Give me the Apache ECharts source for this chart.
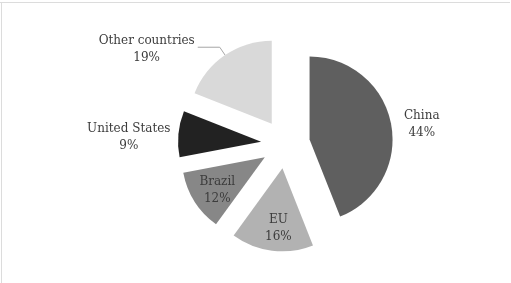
<!DOCTYPE html>
<html>
<head>
<meta charset="utf-8">
<script src="https://cdn.jsdelivr.net/npm/echarts@6/dist/echarts.min.js"></script>
<style>
html,body{margin:0;padding:0;background:#fff;}
#frame{position:absolute;left:0;top:0;width:511px;height:283px;}
#edgeTop{position:absolute;left:0;top:2px;width:510px;height:1px;background:#dcdcdc;}
#edgeLeft{position:absolute;left:1px;top:2px;width:1px;height:281px;background:#dcdcdc;}
#chart{position:absolute;left:0;top:0;width:511px;height:283px;}
</style>
</head>
<body>
<div id="frame"><div id="edgeTop"></div><div id="edgeLeft"></div><div id="chart"></div></div>
<script>
// Data
const categories = ['China', 'EU', 'Brazil', 'United States', 'Other countries'];
const shares = [44, 16, 12, 9, 19];

// Styles (not data)
const colors = ['#5f5f5f', '#b2b2b2', '#878787', '#222222', '#d9d9d9'];
const labelStyles = [
  { position: 'outside', lineShow: false, len: 10, len2: 0, shift: [0, 2] },
  { position: 'inside', lineShow: false, len: 0, len2: 0, shift: [1.5, 16] },
  { position: 'inside', lineShow: false, len: 0, len2: 0, shift: [-10, 9] },
  { position: 'outside', lineShow: false, len: 5, len2: 0, shift: [0, 4] },
  { position: 'outside', lineShow: true, len: 9.5, len2: 22, shift: [0, 2.5] }
];

const chart = echarts.init(document.getElementById('chart'), null, { renderer: 'canvas' });

const seriesData = categories.map((name, i) => ({
  name: name,
  value: shares[i],
  selected: true,
  itemStyle: { color: colors[i] },
  label: { position: labelStyles[i].position },
  labelLine: {
    show: labelStyles[i].lineShow,
    length: labelStyles[i].len,
    length2: labelStyles[i].len2
  }
}));

chart.setOption({
  animation: false,
  series: [{
    type: 'pie',
    center: [285.5, 144],
    radius: [0, 83],
    startAngle: 90,
    clockwise: true,
    selectedMode: 'multiple',
    selectedOffset: 24.5,
    avoidLabelOverlap: false,
    silent: true,
    emphasis: { disabled: true },
    itemStyle: { borderWidth: 0 },
    select: { itemStyle: { borderWidth: 0 } },
    label: {
      show: true,
      formatter: p => '{t|' + p.name + '}\n{t|' + p.value + '%}',
      rich: {
        t: {
          fontFamily: 'DejaVu Serif',
          fontSize: 12,
          color: '#3c3c3c',
          lineHeight: 17,
          align: 'center'
        }
      },
      distanceToLabelLine: 3
    },
    labelLayout: p => ({ dx: labelStyles[p.dataIndex].shift[0], dy: labelStyles[p.dataIndex].shift[1] }),
    labelLine: {
      lineStyle: { color: '#a6a6a6', width: 1 },
      smooth: false
    },
    data: seriesData
  }]
});
</script>
</body>
</html>
